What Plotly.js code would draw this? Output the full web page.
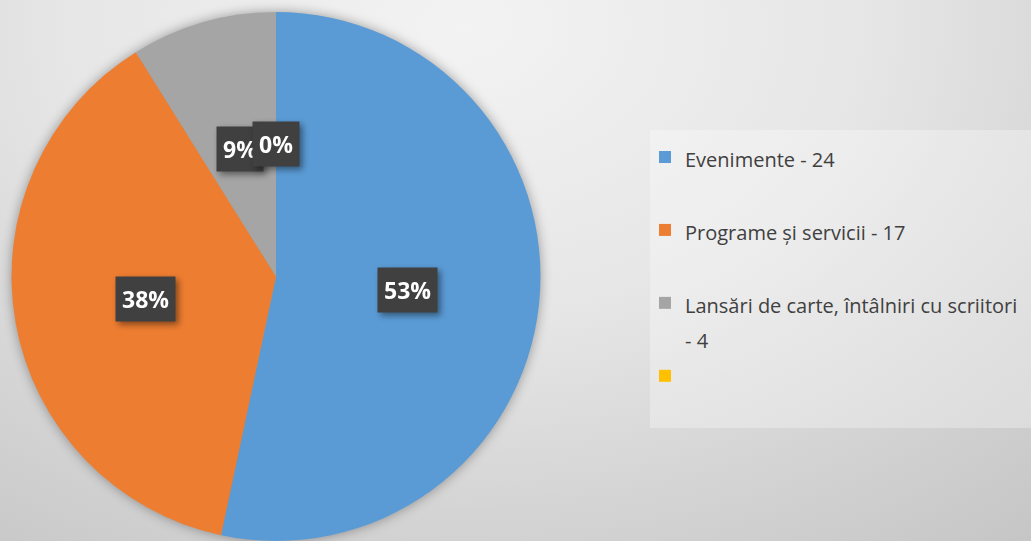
<!DOCTYPE html>
<html>
<head>
<meta charset="utf-8">
<script src="https://cdn.plot.ly/plotly-3.0.1.min.js"></script>
<style>
  html, body { margin: 0; padding: 0; }
  body {
    width: 1031px; height: 541px; overflow: hidden;
    background: radial-gradient(ellipse 900px 650px at 45% 5%, #f3f3f3 0%, #e6e6e6 45%, #d4d4d4 75%, #c6c6c6 100%);
  }
  #chart { width: 1031px; height: 541px; }
  .pielayer { filter: drop-shadow(0px 0px 6px rgba(0,0,0,0.35)); }
  .annotation { filter: drop-shadow(3px 3px 3px rgba(0,0,0,0.45)); }
</style>
</head>
<body>
<div id="chart"></div>
<script>
const categories = ["Evenimente", "Programe și servicii", "Lansări de carte, întâlniri cu scriitori", ""];
const values = [24, 17, 4, 0];
const colors = ["#5B9BD5", "#ED7D31", "#A5A5A5", "#FFC000"];

const W = 1031, H = 541;
const M = {l: 10, r: 0, t: 12, b: 0};
const plotW = W - M.l - M.r, plotH = H - M.t - M.b;
const diam = 532;
const domainX = [0, diam / plotW];

const total = values.reduce((a, b) => a + b, 0);

// legend labels built from data (two lines per entry)
const TXT = '<span style="font-size:20px">';
const legendLabels = categories.map((c, i) => {
  let lines;
  if (c === "") lines = [" "];
  else if (i === 2) lines = [c, "- " + values[i]];
  else lines = [c + " - " + values[i]];
  while (lines.length < 2) lines.push(" ");
  return lines.map((l, k) => k === 0 || l.trim() ? TXT + l + '</span>' : l).join("<br>");
});

// data label annotations positioned from the slice angles
const R = Math.min(diam, plotH) / 2;
const cx = M.l + diam / 2;
const cy = M.t + plotH / 2;
const annotations = [];
let cum = 0;
values.forEach((v, i) => {
  const mid = (cum + v / 2) / total * 2 * Math.PI;
  cum += v;
  const f = 0.5;
  const px = cx + f * R * Math.sin(mid);
  const py = cy - f * R * Math.cos(mid);
  annotations.push({
    xref: 'paper', yref: 'paper',
    x: (px - M.l) / plotW, y: 1 - (py - M.t) / plotH,
    text: '<b>' + Math.round(v / total * 100) + '%</b>',
    showarrow: false,
    font: {family: 'Open Sans, sans-serif', size: 23, color: '#ffffff'},
    bgcolor: '#404040',
    borderpad: 6,
    xanchor: 'center', yanchor: 'middle'
  });
});

const trace = {
  type: 'pie',
  labels: legendLabels,
  values: values,
  sort: false,
  direction: 'clockwise',
  rotation: 0,
  marker: {colors: colors, line: {width: 0}},
  textinfo: 'none',
  hoverinfo: 'none',
  domain: {x: domainX, y: [0, 1]}
};

const layout = {
  width: W, height: H,
  margin: {l: M.l, r: M.r, t: M.t, b: M.b, autoexpand: false},
  paper_bgcolor: 'rgba(0,0,0,0)',
  plot_bgcolor: 'rgba(0,0,0,0)',
  showlegend: true,
  legend: {
    x: (645 - M.l) / plotW, xanchor: 'left',
    y: 1 - (133 - M.t) / plotH, yanchor: 'top',
    valign: 'top',
    bgcolor: 'rgba(0,0,0,0)',
    font: {family: 'Open Sans, sans-serif', size: 26.9, color: '#404040'}
  },
  shapes: [{
    type: 'rect', xref: 'paper', yref: 'paper', layer: 'below',
    x0: (650 - M.l) / plotW, x1: 1.0,
    y0: 1 - (428 - M.t) / plotH, y1: 1 - (130 - M.t) / plotH,
    fillcolor: 'rgba(255,255,255,0.30)', line: {width: 0}
  }],
  annotations: annotations
};

Plotly.newPlot('chart', [trace], layout, {staticPlot: true, displayModeBar: false});
</script>
</body>
</html>
